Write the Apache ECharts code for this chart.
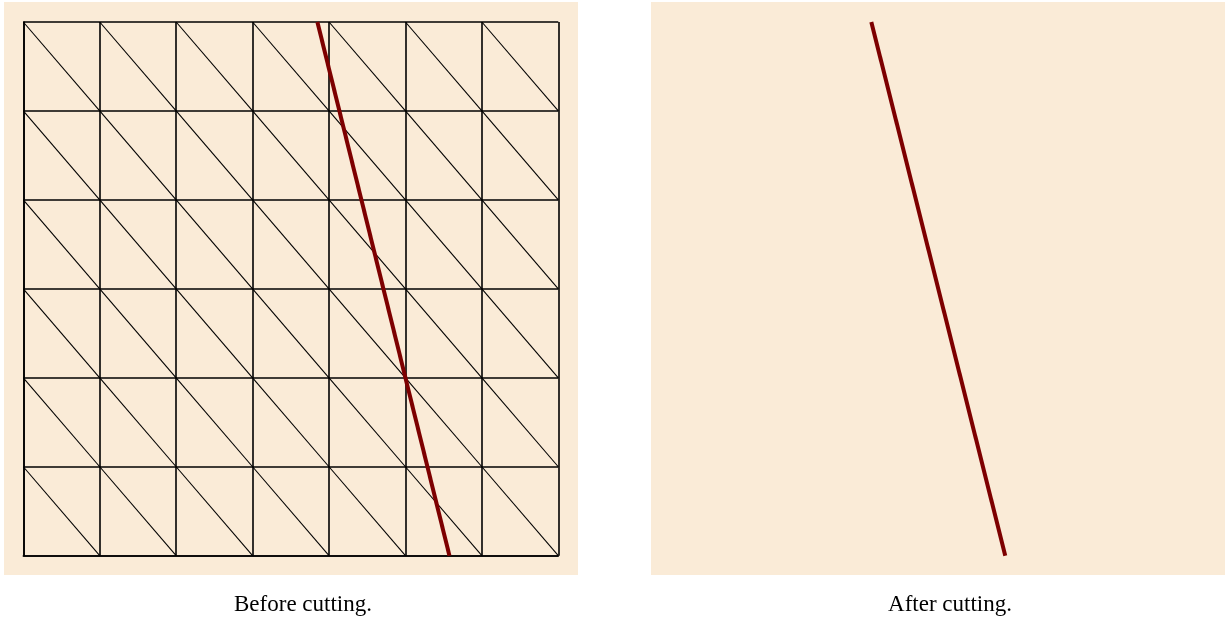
<!DOCTYPE html>
<html>
<head>
<meta charset="utf-8">
<script src="https://cdn.jsdelivr.net/npm/echarts@6/dist/echarts.min.js"></script>
<style>
  html, body { margin: 0; padding: 0; background: #ffffff; }
  #chart { width: 1225px; height: 619px; }
</style>
</head>
<body>
<div id="chart"></div>
<script>
// ---- data ----
var cols = 7;                 // mesh columns (x extent)
var rows = 6;                 // mesh rows (y extent)
var cutBefore = [[3.848, 6], [5.576, 0]];   // cut line over the mesh
var cutAfter  = [[2.63, 6], [4.383, 0]];    // cut line after cutting
var captions = ['Before cutting.', 'After cutting.'];

// build mesh diagonals (top-left to bottom-right in every cell)
var diagonals = [];
for (var i = 0; i < cols; i++) {
  for (var j = 0; j < rows; j++) {
    diagonals.push({ coords: [[i, j + 1], [i + 1, j]] });
  }
}

var chart = echarts.init(document.getElementById('chart'), null, { renderer: 'canvas' });

function xAxis(idx, showGrid) {
  return {
    gridIndex: idx, type: 'value', min: 0, max: cols, interval: 1,
    axisLabel: { show: false }, axisTick: { show: false },
    axisLine: { show: showGrid, lineStyle: { color: '#000', width: 1.6 } },
    splitLine: { show: showGrid, showMinLine: true, showMaxLine: true, lineStyle: { color: '#000', width: 1.6 } }
  };
}
function yAxis(idx, showGrid) {
  return {
    gridIndex: idx, type: 'value', min: 0, max: rows, interval: 1,
    axisLabel: { show: false }, axisTick: { show: false },
    axisLine: { show: showGrid, lineStyle: { color: '#000', width: 1.6 } },
    splitLine: { show: showGrid, showMinLine: true, showMaxLine: true, lineStyle: { color: '#000', width: 1.6 } }
  };
}

var option = {
  animation: false,
  backgroundColor: '#ffffff',
  graphic: [
    { type: 'rect', z: -10, silent: true, shape: { x: 4, y: 2, width: 574, height: 573 }, style: { fill: '#faebd7' } },
    { type: 'rect', z: -10, silent: true, shape: { x: 651, y: 2, width: 574, height: 573 }, style: { fill: '#faebd7' } },
    { type: 'text', silent: true, x: 303, y: 605, style: { text: captions[0], fill: '#000', font: '23px "Liberation Serif", "DejaVu Serif", serif', textAlign: 'center', textVerticalAlign: 'middle' } },
    { type: 'text', silent: true, x: 950, y: 605, style: { text: captions[1], fill: '#000', font: '23px "Liberation Serif", "DejaVu Serif", serif', textAlign: 'center', textVerticalAlign: 'middle' } }
  ],
  grid: [
    { left: 23.3, top: 22, width: 535, height: 533.7, containLabel: false },
    { left: 670.3, top: 22, width: 535, height: 533.7, containLabel: false }
  ],
  xAxis: [xAxis(0, true), xAxis(1, false)],
  yAxis: [yAxis(0, true), yAxis(1, false)],
  series: [
    {
      type: 'lines', coordinateSystem: 'cartesian2d', xAxisIndex: 0, yAxisIndex: 0,
      data: diagonals, silent: true, z: 2,
      lineStyle: { color: '#000', width: 1.1, opacity: 1, curveness: 0 }
    },
    {
      type: 'lines', coordinateSystem: 'cartesian2d', xAxisIndex: 0, yAxisIndex: 0,
      data: [{ coords: cutBefore }], silent: true, z: 5,
      lineStyle: { color: '#7d0000', width: 4, opacity: 1, curveness: 0 }
    },
    {
      type: 'lines', coordinateSystem: 'cartesian2d', xAxisIndex: 1, yAxisIndex: 1,
      data: [{ coords: cutAfter }], silent: true, z: 5,
      lineStyle: { color: '#7d0000', width: 4, opacity: 1, curveness: 0 }
    }
  ]
};
chart.setOption(option);
</script>
</body>
</html>
